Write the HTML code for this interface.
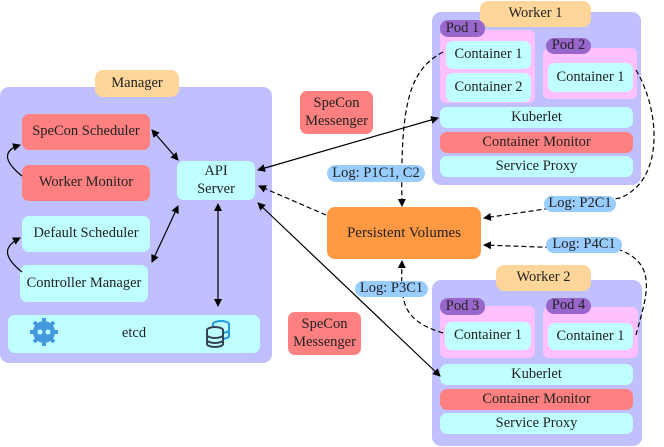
<!DOCTYPE html>
<html><head><meta charset="utf-8"><style>
body{margin:0;width:664px;height:447px;position:relative;background:#fff;font-family:"Liberation Serif",serif;font-size:14.5px;color:#222;overflow:hidden}
.b{position:absolute;box-sizing:border-box;display:flex;align-items:center;justify-content:center;text-align:center;line-height:1.2;white-space:nowrap}
.mg{background:#c0c0ff;border-radius:9px}
.or{background:#ffd699;border-radius:8px}
.cy{background:#c0ffff;border-radius:7px}
.rd{background:#ff8080;border-radius:7px}
.pk{background:#ffc0ff;border-radius:6px}
.pl{background:#9966cc;border-radius:8px}
.lg{background:#99ccff;border-radius:9px;z-index:2}
svg{position:absolute;left:0;top:0;z-index:1}
</style></head><body>
<div class="b mg" style="left:0;top:87px;width:272px;height:276px"></div>
<div class="b or" style="left:95px;top:70px;width:84px;height:27px">Manager</div>
<div class="b rd" style="left:22px;top:114px;width:128px;height:36px">SpeCon Scheduler</div>
<div class="b rd" style="left:22px;top:165px;width:128px;height:36px">Worker Monitor</div>
<div class="b cy" style="left:22px;top:216px;width:128px;height:36px">Default Scheduler</div>
<div class="b cy" style="left:20px;top:265px;width:128px;height:37px">Controller Manager</div>
<div class="b cy" style="left:8px;top:315px;width:252px;height:38px">etcd</div>
<div class="b cy" style="left:177px;top:161px;width:78px;height:39px">API<br>Server</div>

<div class="b rd" style="left:300px;top:91px;width:73px;height:43px">SpeCon<br>Messenger</div>
<div class="b rd" style="left:288px;top:312px;width:73px;height:43px">SpeCon<br>Messenger</div>
<div class="b lg" style="left:327px;top:165px;width:98px;height:17px">Log: P1C1, C2</div>
<div class="b" style="left:327px;top:207px;width:154px;height:52px;background:#ff9944;border-radius:8px;font-size:15px">Persistent Volumes</div>
<div class="b lg" style="left:544px;top:196px;width:72px;height:16px">Log: P2C1</div>
<div class="b lg" style="left:546px;top:237px;width:76px;height:16px">Log: P4C1</div>
<div class="b lg" style="left:355px;top:281px;width:73px;height:16px">Log: P3C1</div>

<div class="b mg" style="left:432px;top:12px;width:209px;height:173px"></div>
<div class="b or" style="left:480px;top:1px;width:111px;height:26px">Worker 1</div>
<div class="b pk" style="left:440px;top:30px;width:95px;height:73px"></div>
<div class="b pl" style="left:440px;top:20px;width:45px;height:17px">Pod 1</div>
<div class="b cy" style="left:446px;top:41px;width:85px;height:28px">Container 1</div>
<div class="b cy" style="left:446px;top:73px;width:85px;height:29px">Container 2</div>
<div class="b pk" style="left:543px;top:48px;width:94px;height:51px"></div>
<div class="b pl" style="left:546px;top:38px;width:45px;height:16px">Pod 2</div>
<div class="b cy" style="left:548px;top:63px;width:85px;height:29px">Container 1</div>
<div class="b cy" style="left:440px;top:107px;width:193px;height:21px">Kuberlet</div>
<div class="b rd" style="left:440px;top:132px;width:193px;height:21px">Container Monitor</div>
<div class="b cy" style="left:440px;top:156px;width:193px;height:21px">Service Proxy</div>

<div class="b mg" style="left:432px;top:280px;width:210px;height:166px"></div>
<div class="b or" style="left:496px;top:265px;width:95px;height:26px">Worker 2</div>
<div class="b pk" style="left:440px;top:306px;width:95px;height:52px"></div>
<div class="b pl" style="left:440px;top:298px;width:45px;height:17px">Pod 3</div>
<div class="b cy" style="left:445px;top:322px;width:86px;height:28px">Container 1</div>
<div class="b pk" style="left:543px;top:307px;width:95px;height:51px"></div>
<div class="b pl" style="left:546px;top:298px;width:45px;height:16px">Pod 4</div>
<div class="b cy" style="left:548px;top:323px;width:85px;height:27px">Container 1</div>
<div class="b cy" style="left:440px;top:364px;width:193px;height:21px">Kuberlet</div>
<div class="b rd" style="left:440px;top:389px;width:193px;height:21px">Container Monitor</div>
<div class="b cy" style="left:440px;top:413px;width:193px;height:21px">Service Proxy</div>

<svg width="664" height="447">
<defs><marker id="a" markerWidth="8" markerHeight="8" refX="7" refY="4" orient="auto-start-reverse" markerUnits="userSpaceOnUse"><path d="M0,0 L8,4 L0,8z" fill="#000"/></marker></defs>
<g fill="none" stroke="#000" stroke-width="1.2">
<path d="M22,176 C2,160 4,150 20,145" marker-end="url(#a)"/>
<path d="M22,272 C2,256 4,246 20,238" marker-end="url(#a)"/>
<path d="M152,130 L178,160" marker-start="url(#a)" marker-end="url(#a)"/>
<path d="M152,262 L178,206" marker-start="url(#a)" marker-end="url(#a)"/>
<path d="M218,204 L218,306" marker-start="url(#a)" marker-end="url(#a)"/>
<path d="M258,170 L438,118" marker-start="url(#a)" marker-end="url(#a)"/>
<path d="M258,203 L440,376" marker-start="url(#a)" marker-end="url(#a)"/>
<g stroke-dasharray="5,3">
<path d="M326,215 L259,186" marker-end="url(#a)"/>
<path d="M443,52 C410,70 400,100 402,206" marker-end="url(#a)"/>
<path d="M636,70 C660,110 665,180 620,198 L484,218" marker-end="url(#a)"/>
<path d="M636,335 C645,300 660,265 620,250 L484,245" marker-end="url(#a)"/>
<path d="M443,333 C400,320 401,300 402,261" marker-end="url(#a)"/>
</g></g>
<g transform="translate(44,332)" fill="#4499dd">
<circle r="11"/><g stroke="#4499dd" stroke-width="4"><line x1="0" y1="-14" x2="0" y2="14"/><line x1="-14" y1="0" x2="14" y2="0"/><line x1="-10" y1="-10" x2="10" y2="10"/><line x1="-10" y1="10" x2="10" y2="-10"/></g>
<circle cx="-4" cy="0" r="2.5" fill="#c0ffff"/><circle cx="4" cy="0" r="2.5" fill="#c0ffff"/></g>
<g fill="#c0ffff" stroke-width="2">
<g stroke="#2299dd"><ellipse cx="221" cy="324" rx="8" ry="3"/><path d="M213,324 v12 a8,3 0 0 0 16,0 v-12 M213,330 a8,3 0 0 0 16,0"/></g>
<g stroke="#334455"><ellipse cx="215" cy="330" rx="8" ry="3"/><path d="M207,330 v14 a8,3 0 0 0 16,0 v-14 M207,335 a8,3 0 0 0 16,0 M207,340 a8,3 0 0 0 16,0"/></g>
</g>
</svg>
</body></html>
